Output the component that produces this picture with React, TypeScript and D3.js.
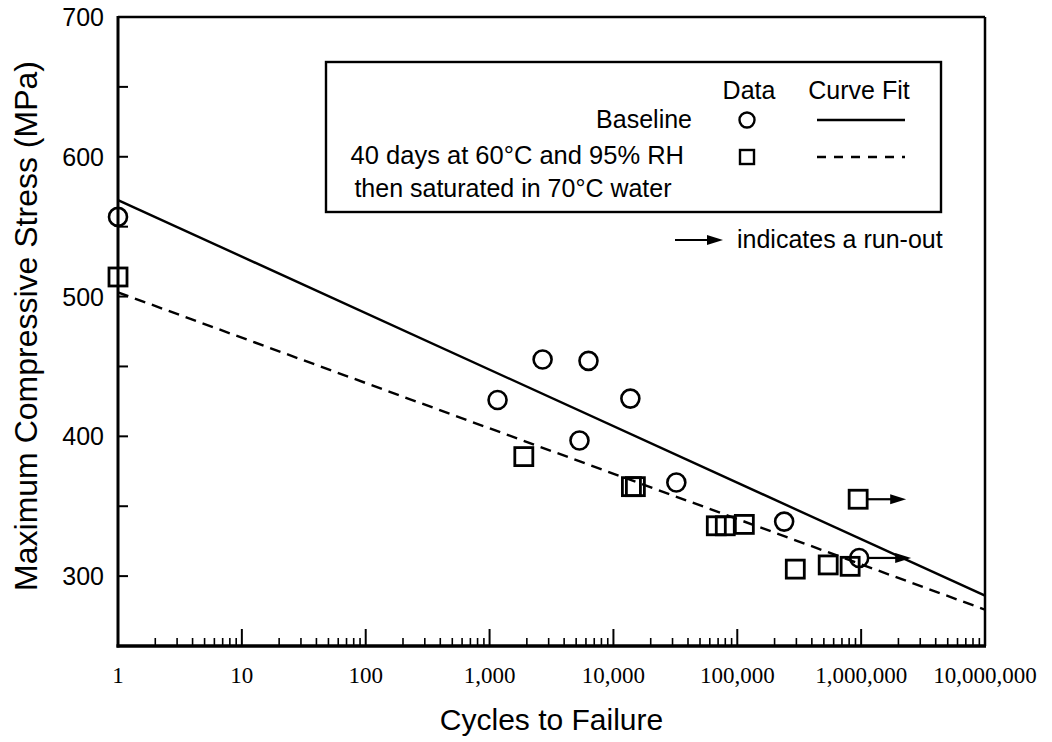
import React from "react";
import * as d3 from "d3";

// ---- data ----
const baselineCycles = [1, 1160, 2680, 6290, 5320, 13700, 32200, 239000, 964000];
const baselineStress = [557, 426, 455, 454, 397, 427, 367, 339, 313];
const baselineRunOut = [false, false, false, false, false, false, false, false, true];

const condCycles = [1, 1890, 13970, 15040, 67700, 80000, 114000, 294000, 542000, 815000, 946000];
const condStress = [514, 385.5, 364, 364, 336, 336, 337, 305, 308, 307, 355];
const condRunOut = [false, false, false, false, false, false, false, false, false, false, true];

const fitCycles = [1, 1e7];
const baselineFit = [569, 286];
const condFit = [503, 276];

const xTickValues = [1, 10, 100, 1000, 10000, 100000, 1000000, 10000000];
const xTickLabels = ["1", "10", "100", "1,000", "10,000", "100,000", "1,000,000", "10,000,000"];
const yTickValues = [300, 400, 500, 600, 700];
const yMinorValues = [350, 450, 550, 650];

const SANS = "'Liberation Sans', Arial, Helvetica, sans-serif";
const SERIF = "'Liberation Serif', 'Times New Roman', serif";

const W = 1052;
const H = 742;
const L = 118;
const R = 985;
const T = 17;
const B = 646;

export default function App() {
  const x = d3.scaleLog().domain([1, 1e7]).range([L, R]);
  const y = d3.scaleLinear().domain([250, 700]).range([B, T]);

  const minorX: number[] = [];
  for (let e = 0; e < 7; e++) {
    for (let k = 2; k <= 9; k++) minorX.push(k * Math.pow(10, e));
  }

  const line = d3
    .line<[number, number]>()
    .x((d) => x(d[0]))
    .y((d) => y(d[1]));

  const baseFitPts = fitCycles.map((c, i) => [c, baselineFit[i]] as [number, number]);
  const condFitPts = fitCycles.map((c, i) => [c, condFit[i]] as [number, number]);

  const r = 9;
  const sq = 18;

  const arrow = (x1: number, x2: number, yy: number, key: string) => (
    <g key={key}>
      <line x1={x1} x2={x2 - 12} y1={yy} y2={yy} stroke="#000" strokeWidth={2.2} />
      <path d={`M${x2},${yy} L${x2 - 16},${yy - 5} L${x2 - 16},${yy + 5} Z`} fill="#000" />
    </g>
  );

  return (
    <div style={{ position: "absolute", left: 0, top: 0 }}>
      <svg width={W} height={H} style={{ display: "block", background: "#fff" }}>
        <defs>
          <clipPath id="plotclip">
            <rect x={L} y={T} width={R - L} height={B - T} />
          </clipPath>
        </defs>

        {/* fit lines */}
        <g clipPath="url(#plotclip)">
          <path d={line(baseFitPts) || ""} fill="none" stroke="#000" strokeWidth={2.4} />
          <path d={line(condFitPts) || ""} fill="none" stroke="#000" strokeWidth={2.4} strokeDasharray="11,7" />
        </g>

        {/* frame */}
        <line x1={L} x2={R} y1={T} y2={T} stroke="#000" strokeWidth={2.5} />
        <line x1={R} x2={R} y1={T} y2={B} stroke="#000" strokeWidth={2.5} />
        <line x1={L} x2={L} y1={T - 1} y2={B + 1.5} stroke="#000" strokeWidth={3} />
        <line x1={L - 1.5} x2={R + 1} y1={B} y2={B} stroke="#000" strokeWidth={3.5} />

        {/* x ticks */}
        {xTickValues.map((v) => (
          <line key={"xt" + v} x1={x(v)} x2={x(v)} y1={B} y2={B - 17} stroke="#000" strokeWidth={2} />
        ))}
        {minorX.map((v) => (
          <line key={"xm" + v} x1={x(v)} x2={x(v)} y1={B} y2={B - 8} stroke="#000" strokeWidth={1.6} />
        ))}
        {xTickValues.map((v, i) => (
          <text
            key={"xl" + v}
            x={x(v)}
            y={683}
            textAnchor="middle"
            fontFamily={SERIF}
            fontSize={23}
            fill="#000"
          >
            {xTickLabels[i]}
          </text>
        ))}

        {/* y ticks */}
        {yTickValues.concat(yMinorValues).map((v) => (
          <line key={"yt" + v} x1={L} x2={L + 10} y1={y(v)} y2={y(v)} stroke="#000" strokeWidth={2} />
        ))}
        {yTickValues.map((v) => (
          <text
            key={"yl" + v}
            x={104}
            y={y(v) + 9}
            textAnchor="end"
            fontFamily={SANS}
            fontSize={25}
            fill="#000"
          >
            {v}
          </text>
        ))}

        {/* axis titles */}
        <text x={(L + R) / 2} y={730} textAnchor="middle" fontFamily={SANS} fontSize={30} fill="#000">
          Cycles to Failure
        </text>
        <text
          transform={`translate(37,326) rotate(-90)`}
          textAnchor="middle"
          fontFamily={SANS}
          fontSize={32}
          fill="#000"
        >
          Maximum Compressive Stress (MPa)
        </text>

        {/* data: baseline circles */}
        {baselineCycles.map((c, i) => (
          <g key={"b" + i}>
            {baselineRunOut[i] && arrow(x(c) + r, x(c) + 52, y(baselineStress[i]), "ba" + i)}
            <circle cx={x(c)} cy={y(baselineStress[i])} r={r} fill="none" stroke="#000" strokeWidth={2.6} />
          </g>
        ))}

        {/* data: conditioned squares */}
        {condCycles.map((c, i) => (
          <g key={"c" + i}>
            {condRunOut[i] && arrow(x(c) + sq / 2, x(c) + 48, y(condStress[i]), "ca" + i)}
            <rect
              x={x(c) - sq / 2}
              y={y(condStress[i]) - sq / 2}
              width={sq}
              height={sq}
              fill="none"
              stroke="#000"
              strokeWidth={2.8}
            />
          </g>
        ))}

        {/* legend */}
        <rect x={326} y={62} width={615} height={150} fill="#fff" stroke="#000" strokeWidth={2.4} />
        <text x={749} y={99} textAnchor="middle" fontFamily={SANS} fontSize={25} fill="#000">
          Data
        </text>
        <text x={859} y={99} textAnchor="middle" fontFamily={SANS} fontSize={25} fill="#000">
          Curve Fit
        </text>
        <text x={692} y={128} textAnchor="end" fontFamily={SANS} fontSize={25} fill="#000">
          Baseline
        </text>
        <circle cx={747} cy={120} r={7.5} fill="none" stroke="#000" strokeWidth={2.4} />
        <line x1={817} x2={905} y1={120} y2={120} stroke="#000" strokeWidth={2.4} />
        <text x={684} y={164} textAnchor="end" fontFamily={SANS} fontSize={25.5} fill="#000">
          40 days at 60°C and 95% RH
        </text>
        <rect x={740} y={150} width={14} height={14} fill="none" stroke="#000" strokeWidth={2.4} />
        <line x1={817} x2={905} y1={157} y2={157} stroke="#000" strokeWidth={2.4} strokeDasharray="9,8" />
        <text x={513} y={197} textAnchor="middle" fontFamily={SANS} fontSize={25} fill="#000">
          then saturated in 70°C water
        </text>

        {/* run-out note */}
        {arrow(675, 723, 240, "note")}
        <text x={737} y={248} fontFamily={SANS} fontSize={25} fill="#000">
          indicates a run-out
        </text>
      </svg>
    </div>
  );
}
